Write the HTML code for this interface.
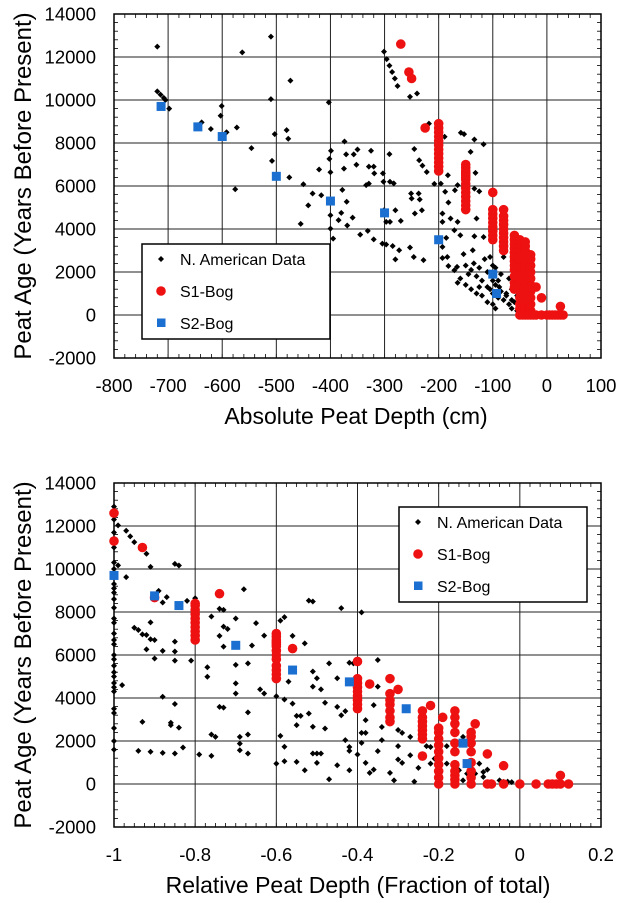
<!DOCTYPE html>
<html><head><meta charset="utf-8"><style>
html,body{margin:0;padding:0;background:#fff;}
svg{display:block;font-family:"Liberation Sans",Arial,sans-serif;}
</style></head><body>
<svg id="fig" width="617" height="903" viewBox="0 0 617 903" xmlns="http://www.w3.org/2000/svg"></svg>
<script>
// ===== Top chart data (Absolute depth) =====
const topXTicks = [-800,-700,-600,-500,-400,-300,-200,-100,0,100];
const yTicks = [-2000,0,2000,4000,6000,8000,10000,12000,14000];
const topNAx = [-720,-510,-563,-474,-510,-403,-601,-603,-698,-720,-714,-708,-705,-638,-621,-592,-573,-503,-481,-478,-546,-508,-476,-576,-450,-433,-417,-441,-455,-421,-402,-399,-400,-374,-371,-357,-350,-375,-352,-378,-370,-380,-385,-369,-359,-400,-400,-395,-345,-331,-320,-325,-329,-320,-319,-329,-334,-303,-302,-290,-283,-291,-301,-280,-290,-297,-270,-304,-297,-285,-273,-280,-253,-246,-228,-301,-296,-291,-286,-281,-276,-253,-240,-245,-236,-230,-222,-251,-250,-237,-235,-244,-231,-200,-189,-196,-188,-182,-193,-178,-193,-171,-186,-193,-184,-193,-182,-171,-165,-159,-153,-134,-117,-165,-141,-132,-134,-130,-160,-134,-117,-154,-137,-166,-218,-198,-208,-183,-170,-125,-150,-140,-130,-120,-110,-105,-100,-95,-90,-85,-80,-75,-70,-65,-60,-55,-50,-45,-40,-35,-30,-20,-10,0,10,-160,-165,-150,-140,-130,-120,-110,-100,-95,-145,-135,-125,-115,-105,-95,-85,-80,-70,-65,-90,-100,-110,-125,-100,-88,-75,-65,-55,-45,-35,-25];
const topNAy = [12480,12945,12215,10900,10040,9890,9720,9270,9600,10400,10250,10100,10000,8960,8650,8500,8720,8410,8600,8200,7760,7170,6400,5850,6080,5650,5570,5100,4240,6770,7260,7640,6640,8070,7470,7470,7700,6810,6990,5820,5270,4750,4410,4160,4530,4640,4020,3550,3740,3910,3520,7640,6900,6900,6590,6110,6040,6590,6200,6200,6120,7480,4870,4870,4330,4330,4380,3320,3280,3210,3010,2590,3140,2700,2550,12250,11900,11600,11300,11000,10650,10150,10300,7720,7200,6950,6650,5650,5420,5650,5370,4720,4870,9000,8290,6110,5730,5230,4720,4490,4330,3940,3590,3170,2700,2650,2280,2080,4330,8475,8410,8160,7940,6040,7590,6610,5880,4490,3710,3660,3630,2830,3010,2240,8900,8600,6100,6500,5800,5750,2300,2100,1800,1600,1300,1200,1000,1400,800,1100,700,900,500,300,600,200,400,100,200,50,100,0,0,0,0,1700,1500,1400,1200,1000,900,600,500,300,1900,2400,2200,2600,2700,2200,1900,2700,1700,1200,1600,2300,2000,1300,1600,1300,1000,700,900,500,300,100];
const topS1x = [
  -270,-255,-250,-225,
  -200,-200,-200,-200,-200,-200,-200,-200,-200,-200,-200,-200,
  -150,-150,-150,-150,-150,-150,-150,-150,-150,-150,-150,-150,-150,-150,
  -100,-100,-100,-100,-100,-100,-100,-100,-100,
  -80,-80,-80,-80,-80,-80,-80,-80,-80,-80,
  -60,-60,-60,-60,-60,-60,-60,-60,-60,-60,-60,-60,-60,
  -50,-50,-50,-50,-50,-50,-50,-50,-50,-50,-50,-50,-50,-50,
  -40,-40,-40,-40,-40,-40,-40,-40,-40,-40,-40,-40,-40,-40,-40,
  -30,-30,-30,-30,-30,-30,-30,-30,-30,-30,-30,-30,
  -20,-10,-20,-10,0,5,10,15,20,25,30,25,-45,-35,-25];
const topS1y = [
  12600,11300,11000,8700,
  6700,6900,7100,7300,7500,7700,7900,8100,8300,8500,8700,8900,
  4900,5100,5300,5500,5700,5900,6100,6300,6400,6500,6600,6700,6850,7000,
  3500,3700,3900,4100,4300,4500,4700,4900,5700,
  3000,3200,3400,3600,3800,4000,4200,4400,4600,4900,
  1200,1500,1800,2100,2300,2500,2700,2900,3100,3300,3500,3700,1300,
  300,500,800,1100,1400,1700,2000,2300,2600,2900,3100,3300,3500,0,
  0,300,600,900,1200,1500,1800,2100,2400,2700,3000,3200,3400,200,100,
  0,200,500,800,1100,1400,1700,2000,2300,2600,2800,1300,
  1300,800,0,0,0,0,0,0,0,0,0,400,0,0,0];
const topS2x = [-713,-645,-600,-500,-400,-300,-200,-100,-93];
const topS2y = [9700,8750,8300,6450,5300,4750,3500,1900,1000];

// ===== Bottom chart data (Relative depth) =====
const botXTicks = [-1,-0.8,-0.6,-0.4,-0.2,0,0.2];
const botXLabels = ["-1","-0.8","-0.6","-0.4","-0.2","0","0.2"];
const botNAx = [-1,-1,-1,-1,-1,-1,-1,-1,-1,-1,-1,-1,-1,-1,-1,-1,-1,-1,-1,-1,-1,-1,-1,-1,-1,-1,-1,-1,-1,-1,-0.99,-0.97,-0.96,-0.95,-0.92,-0.91,-0.99,-0.97,-0.85,-0.84,-0.89,-0.87,-0.88,-0.82,-0.80,-0.68,-0.76,-0.74,-0.73,-0.70,-0.73,-0.72,-0.74,-0.73,-0.65,-0.63,-0.66,-0.59,-0.58,-0.56,-0.53,-0.52,-0.51,-0.44,-0.39,-0.95,-0.94,-0.93,-0.92,-0.91,-0.91,-0.90,-0.92,-0.90,-0.88,-0.85,-0.85,-0.85,-0.81,-0.77,-0.77,-0.70,-0.70,-0.70,-0.67,-0.64,-0.63,-0.60,-0.58,-0.57,-0.56,-0.55,-0.54,-0.55,-0.52,-0.51,-0.50,-0.51,-0.49,-0.48,-0.47,-0.45,-0.45,-0.44,-0.43,-0.42,-0.41,-0.35,-0.35,-0.36,-0.34,-0.38,-0.39,-0.38,-0.39,-0.42,-0.43,-0.42,-0.40,-0.38,-0.36,-0.37,-0.42,-0.45,-0.47,-0.35,-0.34,-0.32,-0.31,-0.30,-0.29,-0.30,-0.30,-0.29,-0.27,-0.26,-0.27,-0.25,-0.23,-0.22,-0.22,-0.21,-0.18,-0.18,-0.15,-0.14,-0.13,-0.11,-0.10,-0.09,-0.09,-0.08,-0.05,-0.04,-0.03,-0.02,-0.14,-0.93,-0.94,-0.91,-0.88,-0.85,-0.83,-0.86,-0.86,-0.84,-0.85,-0.88,-0.98,-0.76,-0.75,-0.79,-0.76,-0.74,-0.73,-0.69,-0.69,-0.69,-0.67,-0.67,-0.67,-0.59,-0.58,-0.58,-0.60,-0.55,-0.53,-0.51,-0.50,-0.49,-0.50,-0.51,-0.48];
const botNAy = [1600,2000,2600,3300,3500,4300,4500,4700,5000,5200,5500,5800,6000,6500,6700,7000,7500,7700,8200,8600,8900,9100,9300,9700,10000,10300,11000,11700,12300,12900,12030,11780,11520,11250,10710,10100,10170,9620,10240,10160,8980,8690,8440,8520,8640,9060,7790,8150,8100,7700,7320,7210,6890,6390,7480,6900,6440,7600,7760,6890,6540,8530,8490,8180,7980,7270,7160,6960,6930,7520,6730,6700,6260,5840,6190,6620,6160,5740,5740,5430,4990,5540,4680,4210,5610,4400,4210,4080,3930,4760,3740,3170,3170,2740,3280,5230,4920,4530,4400,3780,5610,4920,3590,3200,3390,5640,5610,5770,4530,3670,2650,2970,2380,2380,1910,1720,2040,1540,1370,980,670,520,640,870,220,1530,2040,520,170,1140,980,1760,2510,2380,2190,110,1340,750,1760,1720,950,1180,950,1760,640,170,480,480,950,330,560,670,170,100,110,90,2190,2890,1540,1500,1450,1420,1700,2850,2740,2620,3720,4060,4600,2300,2190,1370,1310,3590,3550,2190,1880,1570,1420,2300,3330,2240,1730,1060,950,1030,640,1420,980,1420,1420,2660,2580];
const botS1x = [-1,-1,-0.93,-0.90,-0.74,-0.8,-0.8,-0.8,-0.8,-0.8,-0.8,-0.8,-0.8,-0.8,-0.8,-0.6,-0.6,-0.6,-0.6,-0.6,-0.6,-0.6,-0.6,-0.6,-0.6,-0.6,-0.6,-0.6,-0.56,-0.4,-0.4,-0.4,-0.4,-0.4,-0.4,-0.4,-0.4,-0.4,-0.37,-0.32,-0.32,-0.32,-0.32,-0.32,-0.32,-0.32,-0.3,-0.24,-0.24,-0.24,-0.24,-0.24,-0.24,-0.24,-0.24,-0.22,-0.2,-0.2,-0.2,-0.2,-0.2,-0.2,-0.2,-0.2,-0.2,-0.2,-0.19,-0.16,-0.16,-0.16,-0.16,-0.16,-0.16,-0.16,-0.16,-0.16,-0.16,-0.16,-0.12,-0.12,-0.12,-0.12,-0.12,-0.12,-0.12,-0.12,-0.11,-0.08,-0.08,-0.07,-0.04,-0.04,0,0.04,0.07,0.08,0.09,0.1,0.1,0.12];
const botS1y = [12600,11300,11000,8670,8850,6700,6900,7100,7300,7500,7700,7900,8100,8300,8400,4900,5100,5300,5500,5800,6000,6200,6400,6500,6600,6700,6850,7000,6300,3500,3700,3900,4100,4300,4500,4700,4900,5700,4650,2900,3100,3400,3700,3900,4200,4900,4400,1300,2100,2300,2500,2700,2900,3100,3400,3650,0,300,600,900,1200,1500,1800,2100,2400,2600,3100,0,200,400,600,900,1500,1900,2400,2800,3100,3400,0,300,600,1000,1500,1900,2200,2400,2800,0,1400,0,0,850,0,0,0,0,0,0,400,0];
const botS2x = [-1,-0.9,-0.84,-0.7,-0.56,-0.42,-0.28,-0.14,-0.13];
const botS2y = [9700,8750,8300,6450,5300,4750,3500,1900,950];

const NS = "http://www.w3.org/2000/svg";
const svg = document.getElementById('fig');
function mk(tag, attrs, parent){
  const e = document.createElementNS(NS, tag);
  for (const k in attrs) e.setAttribute(k, attrs[k]);
  (parent||svg).appendChild(e);
  return e;
}

function drawChart(cfg){
  const g = mk('g', {});
  
  
  const L=cfg.L, R=cfg.R, T=cfg.T, B=cfg.B;
  const xs = v => L + (v - cfg.xmin)/(cfg.xmax - cfg.xmin)*(R-L);
  const ys = v => B - (v - (-2000))/(16000)*(B-T);
  for (let v=-2000; v<=14000; v+=400){
    const y = ys(v);
    const t = mk('line',{x1:L,x2:L+4,y1:y,y2:y,stroke:'#000','stroke-width':0.8},g);
    
    
    mk('line',{x1:R,x2:R-4,y1:y,y2:y,stroke:'#000','stroke-width':0.8},g);
  }
  const nMinor = Math.round((cfg.xmax-cfg.xmin)/cfg.xminor);
  for (let i=0;i<=nMinor;i++){
    const x = xs(cfg.xmin + i*cfg.xminor);
    const t = mk('line',{x1:x,x2:x,y1:B,y2:B-4,stroke:'#000','stroke-width':0.8},g);
    
    
    mk('line',{x1:x,x2:x,y1:T,y2:T+4,stroke:'#000','stroke-width':0.8},g);
  }
  yTicks.forEach(v=>{
    const y = ys(v);
    const gl = mk('line',{x1:L,x2:R,y1:y,y2:y,stroke:'#222','stroke-width':1},g);
    
    
    const tx = mk('text',{x:L-18,y:y+6.5,'text-anchor':'end','font-size':18.5},g);
    tx.textContent = String(v);
    
    
  });
  cfg.xticks.forEach((v,i)=>{
    const x = xs(v);
    const gl = mk('line',{x1:x,x2:x,y1:T,y2:B,stroke:'#222','stroke-width':1},g);
    
    
    const tx = mk('text',{x:x,y:B+34,'text-anchor':'middle','font-size':18.5},g);
    tx.textContent = cfg.xlabels[i];
    
    
  });
  const fr = mk('rect',{x:L,y:T,width:R-L,height:B-T,fill:'none',stroke:'#000','stroke-width':1.5},g);
  
  
  cfg.nx.forEach((v,i)=>{
    const x=xs(v), y=ys(cfg.ny[i]);
    const p = mk('path',{d:`M${x} ${y-3}L${x+3} ${y}L${x} ${y+3}L${x-3} ${y}Z`,fill:'#000'},g);
    
    
  });
  cfg.s1x.forEach((v,i)=>{
    const c = mk('circle',{cx:xs(v),cy:ys(cfg.s1y[i]),r:4.8,fill:'#ee1111'},g);
    
    
  });
  cfg.s2x.forEach((v,i)=>{
    const r = mk('rect',{x:xs(v)-4.5,y:ys(cfg.s2y[i])-4.5,width:9,height:9,fill:'#1a6fd0'},g);
    
    
  });
  const lg = mk('g',{},g);
  
  
  const lx=cfg.lx, ly=cfg.ly;
  mk('rect',{x:lx,y:ly,width:188,height:95,fill:'#fff',stroke:'#000','stroke-width':1.5},lg);
  const e1 = mk('path',{d:`M${lx+19} ${ly+12}L${lx+22} ${ly+15}L${lx+19} ${ly+18}L${lx+16} ${ly+15}Z`,fill:'#000'},lg);
  
  
  const e2 = mk('circle',{cx:lx+19,cy:ly+47,r:4.8,fill:'#ee1111'},lg);
  
  
  const e3 = mk('rect',{x:lx+15,y:ly+74.5,width:8.5,height:8.5,fill:'#1a6fd0'},lg);
  
  
  [['N. American Data',15],['S1-Bog',47],['S2-Bog',79]].forEach(a=>{
    const t = mk('text',{x:lx+38,y:ly+a[1]+6,'font-size':16},lg);
    t.textContent = a[0];
    
    
  });
  const yt = mk('text',{x:0,y:0,'text-anchor':'middle','font-size':24,transform:`translate(31 ${(T+B)/2}) rotate(-90)`},g);
  yt.textContent = 'Peat Age (Years Before Present)';
  
  
  const xt = mk('text',{x:cfg.xtx,y:B+66,'text-anchor':'middle','font-size':23},g);
  xt.textContent = cfg.xtitle;
  
  
}

drawChart({name:'absolute-depth-chart',L:114,R:601,T:14,B:358,xmin:-800,xmax:100,xminor:20,
  xticks:topXTicks,xlabels:topXTicks.map(String),nx:topNAx,ny:topNAy,s1x:topS1x,s1y:topS1y,s2x:topS2x,s2y:topS2y,
  lx:142,ly:244,xtitle:'Absolute Peat Depth (cm)',xtx:356});
drawChart({name:'relative-depth-chart',L:114,R:601,T:483,B:827,xmin:-1,xmax:0.2,xminor:0.025,
  xticks:botXTicks,xlabels:botXLabels,nx:botNAx,ny:botNAy,s1x:botS1x,s1y:botS1y,s2x:botS2x,s2y:botS2y,
  lx:399,ly:507,xtitle:'Relative Peat Depth (Fraction of total)',xtx:358});
</script>
</body></html>
